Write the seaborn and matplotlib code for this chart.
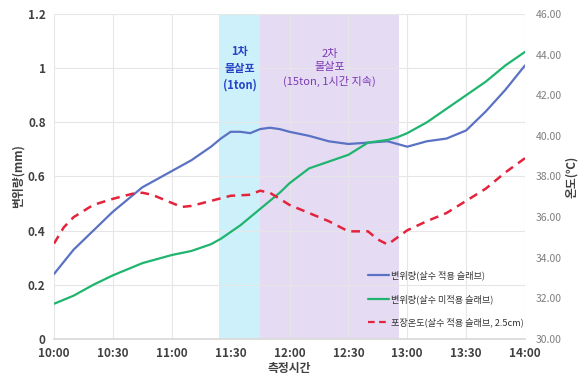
import matplotlib
matplotlib.use("Agg")
import matplotlib.pyplot as plt
import seaborn as sns
import pandas as pd
from matplotlib.lines import Line2D

# measurement times (minutes after 10:00)
t_disp = [0, 10, 20, 30, 40, 45, 50, 60, 70, 80, 85, 90, 95, 100, 105, 110, 115, 120,
          130, 140, 150, 160, 170, 175, 180, 190, 200, 210, 220, 230, 240]
disp_wet = [0.24, 0.33, 0.40, 0.47, 0.53, 0.56, 0.58, 0.62, 0.66, 0.71, 0.74, 0.765, 0.765, 0.76,
            0.775, 0.78, 0.775, 0.765, 0.75, 0.73, 0.72, 0.725, 0.73, 0.72, 0.71, 0.73, 0.74,
            0.77, 0.84, 0.92, 1.01]
disp_dry = [0.13, 0.16, 0.20, 0.235, 0.265, 0.28, 0.29, 0.31, 0.325, 0.35, 0.37, 0.395, 0.42, 0.45,
            0.48, 0.51, 0.54, 0.575, 0.63, 0.655, 0.68, 0.725, 0.735, 0.745, 0.76, 0.80, 0.85,
            0.90, 0.95, 1.01, 1.06]

t_temp = [0, 5, 10, 20, 30, 40, 45, 50, 60, 65, 70, 80, 90, 100, 105, 110, 120, 130, 140,
          150, 160, 165, 170, 180, 190, 200, 210, 220, 230, 240]
temp_wet = [34.7, 35.5, 36.0, 36.6, 36.9, 37.15, 37.2, 37.1, 36.7, 36.5, 36.55, 36.8, 37.05, 37.1,
            37.3, 37.2, 36.6, 36.2, 35.8, 35.3, 35.3, 34.9, 34.65, 35.35, 35.8, 36.2, 36.8, 37.4,
            38.2, 38.9]

x_ticks = [0, 30, 60, 90, 120, 150, 180, 210, 240]
x_labels = ["10:00", "10:30", "11:00", "11:30", "12:00", "12:30", "13:00", "13:30", "14:00"]

first_spray = (84, 105)
second_spray = (105, 176)

label_wet = "변위량(살수 적용 슬래브)"
label_dry = "변위량(살수 미적용 슬래브)"
label_temp = "포장온도(살수 적용 슬래브, 2.5cm)"

sns.set_theme(style="white")
plt.rcParams["font.family"] = ["Noto Sans CJK KR", "DejaVu Sans"]
plt.rcParams["axes.unicode_minus"] = False

df_disp = pd.DataFrame({"t": t_disp + t_disp,
                        "v": disp_wet + disp_dry,
                        "s": [label_wet] * len(t_disp) + [label_dry] * len(t_disp)})
df_temp = pd.DataFrame({"t": t_temp, "v": temp_wet})

fig = plt.figure(figsize=(5.79, 3.78), dpi=100)
ax = fig.add_axes([0.0933, 0.1032, 0.8134, 0.8598])
ax2 = ax.twinx()

ax.axvspan(*first_spray, color="#cdf1fb", zorder=0, lw=0)
ax.axvspan(*second_spray, color="#e5dbf3", zorder=0, lw=0)

sns.lineplot(data=df_disp, x="t", y="v", hue="s",
             palette={label_wet: "#5a72c4", label_dry: "#1fb56e"},
             lw=1.6, ax=ax, legend=False)
sns.lineplot(data=df_temp, x="t", y="v", color="#e3243c", lw=1.8,
             linestyle=(0, (3.5, 2.5)), ax=ax2, legend=False)

ax.set_xlim(0, 240)
ax.set_ylim(0, 1.2)
ax.set_yticks([0, 0.2, 0.4, 0.6, 0.8, 1.0, 1.2])
ax.set_yticklabels(["0", "0.2", "0.4", "0.6", "0.8", "1", "1.2"])
ax.set_xticks(x_ticks)
ax.set_xticklabels(x_labels)
ax2.set_ylim(30, 46)
ax2.set_yticks(range(30, 47, 2))
ax2.set_yticklabels([f"{v:.2f}" for v in range(30, 47, 2)])

ax.grid(True, color="#e6e6e6", lw=0.8)
for a in (ax, ax2):
    for sp in a.spines.values():
        sp.set_visible(False)
    a.tick_params(length=0)
ax.spines["bottom"].set_visible(True)
ax.spines["bottom"].set_color("#d9d9d9")

ax.tick_params(axis="both", labelsize=8.5, colors="#404040", pad=6)
for lbl in ax.get_xticklabels() + ax.get_yticklabels():
    lbl.set_fontweight("bold")
ax2.tick_params(axis="y", labelsize=7.5, colors="#7f7f7f", pad=8)

ax.set_xlabel("측정시간", fontsize=8.5, color="#404040", fontweight="bold", labelpad=1)
ax.set_ylabel("변위량(mm)", fontsize=8.5, color="#404040", fontweight="bold", labelpad=2)
ax2.set_ylabel("온도(℃)", fontsize=8.5, color="#404040", fontweight="bold",
               labelpad=2, rotation=90)

ax.text(sum(first_spray) / 2, 1.0, "1차\n물살포\n(1ton)", ha="center", va="center",
        fontsize=8, color="#2743c8", fontweight="bold", linespacing=1.4)
ax.text(sum(second_spray) / 2, 1.0, "2차\n물살포\n(15ton, 1시간 지속)", ha="center", va="center",
        fontsize=8, color="#7b39b4", linespacing=1.4)

handles = [Line2D([], [], color="#5a72c4", lw=1.6),
           Line2D([], [], color="#1fb56e", lw=1.6),
           Line2D([], [], color="#e3243c", lw=1.6, linestyle=(0, (3, 2)))]
ax2.legend(handles, [label_wet, label_dry, label_temp], loc="lower right",
           bbox_to_anchor=(1.01, 0.015), frameon=False, fontsize=6.6, handlelength=2.3,
           handletextpad=0.2, labelspacing=1.5, labelcolor="#333333", borderpad=0.2)

fig.savefig("out.png", dpi=100)
